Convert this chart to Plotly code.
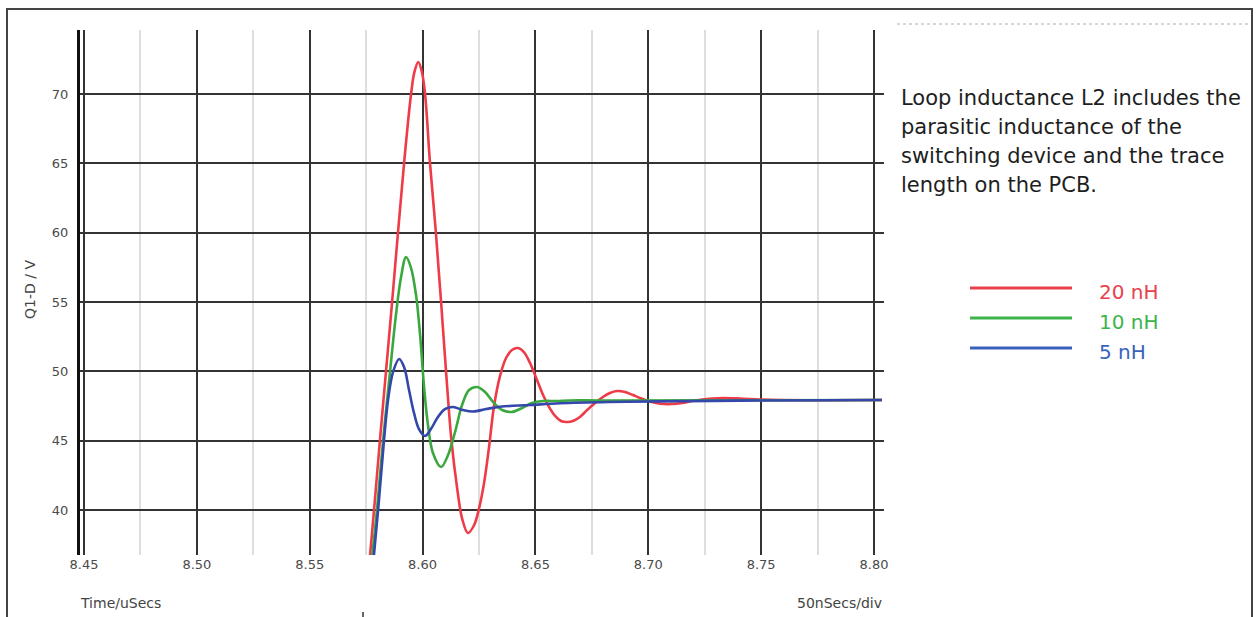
import plotly.graph_objects as go

# Drain voltage of Q1 during turn-off ringing, for three loop inductances
t_20nH = [8.5763, 8.5785, 8.5811, 8.5838, 8.5865, 8.5891, 8.5918, 8.5949, 8.5964,
          8.5981, 8.5997, 8.6011, 8.6033, 8.6059, 8.6082, 8.6104, 8.6128, 8.6153,
          8.6175, 8.6201, 8.6228, 8.6250, 8.6272, 8.6294, 8.6316, 8.6343, 8.6370,
          8.6396, 8.6423, 8.6449, 8.6476, 8.6507, 8.6534, 8.6560, 8.6587, 8.6613,
          8.6640, 8.6666, 8.6697, 8.6729, 8.6764, 8.6799, 8.6830, 8.6861, 8.6897,
          8.6932, 8.6963, 8.6999, 8.7034, 8.7070, 8.7105, 8.7149, 8.7194, 8.7238,
          8.7282, 8.7331, 8.7406, 8.7495, 8.7584, 8.8035]
v_20nH = [35.96, 40.00, 45.00, 50.00, 55.00, 60.00, 65.00, 70.00, 71.59,
          72.31, 71.59, 70.00, 65.00, 60.00, 55.00, 50.00, 45.00, 41.60,
          39.40, 38.34, 38.90, 40.10, 41.90, 44.47, 47.43, 49.66, 50.96,
          51.54, 51.68, 51.39, 50.60, 49.38, 48.29, 47.43, 46.78, 46.42,
          46.35, 46.42, 46.71, 47.21, 47.72, 48.15, 48.44, 48.58, 48.51,
          48.29, 48.08, 47.86, 47.72, 47.64, 47.64, 47.72, 47.86, 47.97,
          48.04, 48.08, 48.04, 47.97, 47.93, 47.93]

t_10nH = [8.5772, 8.5798, 8.5825, 8.5856, 8.5882, 8.5904, 8.5927, 8.5949, 8.5971,
          8.5989, 8.6006, 8.6024, 8.6046, 8.6082, 8.6113, 8.6144, 8.6175, 8.6206,
          8.6241, 8.6277, 8.6312, 8.6352, 8.6396, 8.6441, 8.6485, 8.6534, 8.6591,
          8.6653, 8.6786, 8.8035]
v_10nH = [35.96, 40.00, 45.00, 50.00, 54.06, 56.73, 58.25, 57.45, 55.51,
          52.62, 49.01, 46.13, 44.11, 43.10, 43.97, 45.63, 47.57, 48.65,
          48.87, 48.51, 47.79, 47.21, 47.07, 47.36, 47.72, 47.86, 47.86,
          47.90, 47.90, 47.93]

t_5nH = [8.5780, 8.5803, 8.5829, 8.5847, 8.5869, 8.5896, 8.5918, 8.5940, 8.5962,
         8.5984, 8.6011, 8.6037, 8.6068, 8.6099, 8.6135, 8.6179, 8.6223, 8.6281,
         8.6343, 8.6476, 8.6609, 8.6830, 8.7052, 8.7495, 8.8035]
v_5nH = [35.96, 40.00, 45.00, 47.93, 49.95, 50.89, 50.31, 48.65, 47.00,
         45.84, 45.34, 45.84, 46.71, 47.28, 47.43, 47.21, 47.10, 47.28,
         47.45, 47.57, 47.70, 47.79, 47.83, 47.90, 47.93]

series_names = ["20 nH", "10 nH", "5 nH"]
curve_colors = ["#ee3b47", "#3aa83e", "#3447aa"]
legend_colors = ["#e8404e", "#3cb44b", "#3a62bd"]

x_ticks = [8.45, 8.50, 8.55, 8.60, 8.65, 8.70, 8.75, 8.80]
x_tick_labels = ["8.45", "8.50", "8.55", "8.60", "8.65", "8.70", "8.75", "8.80"]
y_ticks = [40, 45, 50, 55, 60, 65, 70]

note_lines = [
    "Loop inductance L2 includes the",
    "parasitic inductance of the",
    "switching device and the trace",
    "length on the PCB.",
]

W, H = 1258, 617
L, R, T, B = 80, 884, 30, 555


def px(x):
    return (x - L) / (R - L)


def py(y):
    return (B - y) / (B - T)


fig = go.Figure()
for t, v, name, col in zip([t_20nH, t_10nH, t_5nH], [v_20nH, v_10nH, v_5nH],
                           series_names, curve_colors):
    fig.add_trace(go.Scatter(x=t, y=v, mode="lines", name=name,
                             line=dict(color=col, width=2.6, shape="spline",
                                       smoothing=1.0),
                             showlegend=False))

tick_font = dict(family="DejaVu Sans", size=13, color="#4a4a4a")

fig.update_layout(
    width=W, height=H,
    margin=dict(l=L, r=W - R, t=T, b=H - B),
    paper_bgcolor="white", plot_bgcolor="white",
    xaxis=dict(range=[8.44823, 8.80443], tickvals=x_ticks, ticktext=x_tick_labels,
               showgrid=True, gridcolor="#333333", gridwidth=2,
               minor=dict(dtick=0.025, tick0=8.45, showgrid=True,
                          gridcolor="#dedede", gridwidth=2),
               zeroline=False, showline=False, ticks="",
               tickfont=tick_font),
    yaxis=dict(range=[36.755, 74.615], tickvals=y_ticks,
               showgrid=True, gridcolor="#333333", gridwidth=2,
               zeroline=False, showline=True, linecolor="#111111", linewidth=3,
               ticks="", ticklabelstandoff=6, tickfont=tick_font),
)

shapes = []
# outer frame
shapes.append(dict(type="rect", xref="paper", yref="paper",
                   x0=px(7), x1=px(1252), y0=py(640), y1=py(9),
                   line=dict(color="#444444", width=2), fillcolor="rgba(0,0,0,0)",
                   layer="below"))
# dotted rule above the note
shapes.append(dict(type="line", xref="paper", yref="paper",
                   x0=px(897), x1=px(1250), y0=py(24), y1=py(24),
                   line=dict(color="#b0b0b0", width=1, dash="dot")))
# small tick mark at the bottom edge
shapes.append(dict(type="line", xref="paper", yref="paper",
                   x0=px(363), x1=px(363), y0=py(617), y1=py(612),
                   line=dict(color="#333333", width=1.5)))

annotations = []
# legend
for i, (name, col) in enumerate(zip(series_names, legend_colors)):
    yl = 288 + 30 * i
    shapes.append(dict(type="line", xref="paper", yref="paper",
                       x0=px(970), x1=px(1072), y0=py(yl), y1=py(yl),
                       line=dict(color=col, width=3)))
    annotations.append(dict(xref="paper", yref="paper", x=px(1097), y=py(yl + 4),
                            text=name, showarrow=False, xanchor="left",
                            yanchor="middle",
                            font=dict(family="DejaVu Sans", size=20, color=col)))

for i, line in enumerate(note_lines):
    annotations.append(dict(xref="paper", yref="paper", x=px(899), y=py(98 + 29 * i),
                            text=line, showarrow=False, xanchor="left",
                            yanchor="middle",
                            font=dict(family="DejaVu Sans", size=21, color="#1e1e1e")))

axis_font = dict(family="DejaVu Sans", size=14, color="#444444")
annotations.append(dict(xref="paper", yref="paper", x=px(30), y=py(290),
                        text="Q1-D / V", textangle=-90, showarrow=False,
                        xanchor="center", yanchor="middle", font=axis_font))
annotations.append(dict(xref="paper", yref="paper", x=px(78), y=py(603),
                        text="Time/uSecs", showarrow=False,
                        xanchor="left", yanchor="middle", font=axis_font))
annotations.append(dict(xref="paper", yref="paper", x=px(884), y=py(603),
                        text="50nSecs/div", showarrow=False,
                        xanchor="right", yanchor="middle", font=axis_font))

fig.update_layout(shapes=shapes, annotations=annotations)

fig.write_html("out.html")
